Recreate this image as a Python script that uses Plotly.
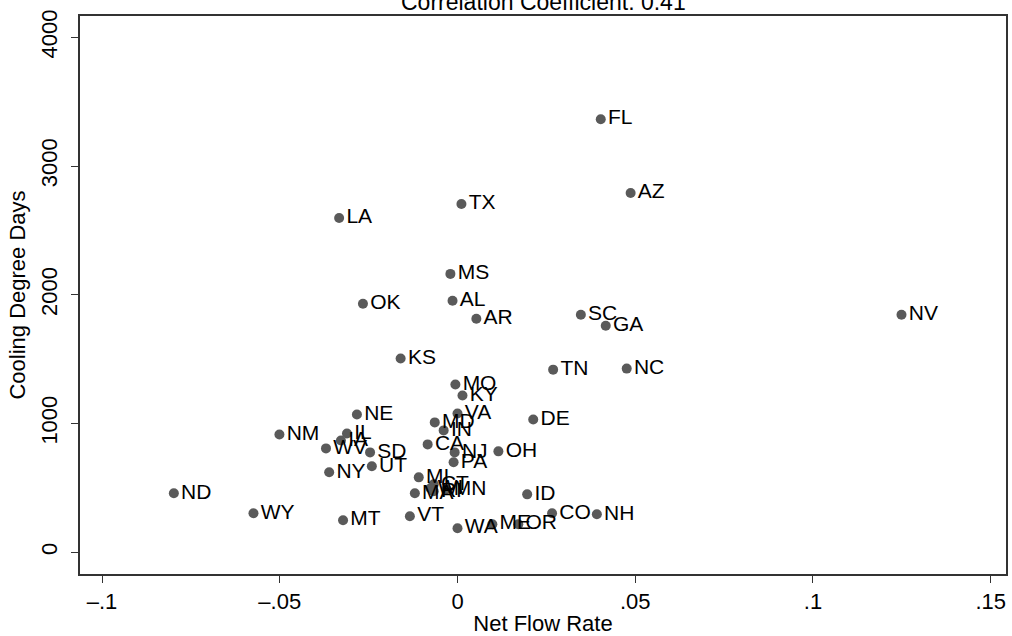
import plotly.graph_objects as go

states = ["FL","AZ","TX","LA","MS","AL","OK","AR","SC","GA","NV","KS","TN","NC",
          "MO","KY","NE","VA","MD","IN","DE","CA","OH","NM","IL","IA","WV","SD",
          "NY","UT","NJ","PA","MI","CT","WI","RI","MN","MA","ID","VT","MT","WA",
          "ME","OR","CO","WY","ND","NH"]
net_flow = [0.0403,0.0487,0.0011,-0.0333,-0.0020,-0.0014,-0.0266,0.0053,0.0347,0.0417,0.1249,-0.0160,0.0269,0.0476,
            -0.0006,0.0014,-0.0283,0.0000,-0.0064,-0.0039,0.0213,-0.0084,0.0115,-0.0501,-0.0311,-0.0328,-0.0370,-0.0246,
            -0.0361,-0.0241,-0.0008,-0.0011,-0.0109,-0.0067,-0.0076,-0.0067,-0.0031,-0.0120,0.0196,-0.0134,-0.0322,0.0000,
            0.0098,0.0171,0.0266,-0.0574,-0.0798,0.0392]
cdd = [3364,2790,2705,2596,2162,1953,1930,1814,1845,1759,1845,1504,1418,1426,
       1302,1217,1070,1077,1008,946,1031,837,783,914,922,868,806,775,
       620,667,775,698,581,527,496,473,488,457,449,279,248,186,
       217,217,302,302,457,294]

xtick_vals = [-0.1,-0.05,0,0.05,0.1,0.15]
xtick_text = ["\u2013.1","\u2013.05","0",".05",".1",".15"]
ytick_vals = [0,1000,2000,3000,4000]
ytick_text = ["0","1000","2000","3000","4000"]

font = "Liberation Sans, Arial, Helvetica, sans-serif"

fig = go.Figure(go.Scatter(
    x=net_flow, y=cdd, text=states, mode="markers+text",
    textposition="middle right",
    marker=dict(color="#5a5a5a", size=10),
    textfont=dict(family=font, size=21, color="black"),
    cliponaxis=False,
))

fig.update_layout(
    width=1012, height=636,
    margin=dict(l=80, r=4, t=16, b=61),
    paper_bgcolor="white", plot_bgcolor="white",
    showlegend=False,
    font=dict(family=font, color="black"),
    annotations=[dict(text="Correlation Coefficient: 0.41", xref="paper", yref="paper",
                      x=0.5, y=1, yshift=14, yanchor="middle", showarrow=False,
                      font=dict(size=23, family=font, color="black"))],
)
fig.update_xaxes(range=[-0.1062, 0.1543], tickvals=xtick_vals, ticktext=xtick_text,
                 showgrid=False, zeroline=False, showline=True, mirror=True,
                 linecolor="#333333", linewidth=1.5, ticks="outside", ticklen=7,
                 tickcolor="#333333", tickfont=dict(size=22), ticklabelstandoff=0,
                 title=dict(text="Net Flow Rate", font=dict(size=22), standoff=2))
fig.update_yaxes(range=[-170, 4166], tickvals=ytick_vals, ticktext=ytick_text,
                 showgrid=False, zeroline=False, showline=True, mirror=True,
                 linecolor="#333333", linewidth=1.5, ticks="outside", ticklen=7,
                 tickcolor="#333333", tickfont=dict(size=22), tickangle=-90,
                 ticklabelstandoff=5,
                 title=dict(text="Cooling Degree Days", font=dict(size=22), standoff=6))

fig.write_html("out.html", config={"displayModeBar": False},
               post_script="document.body.style.margin='0';")
